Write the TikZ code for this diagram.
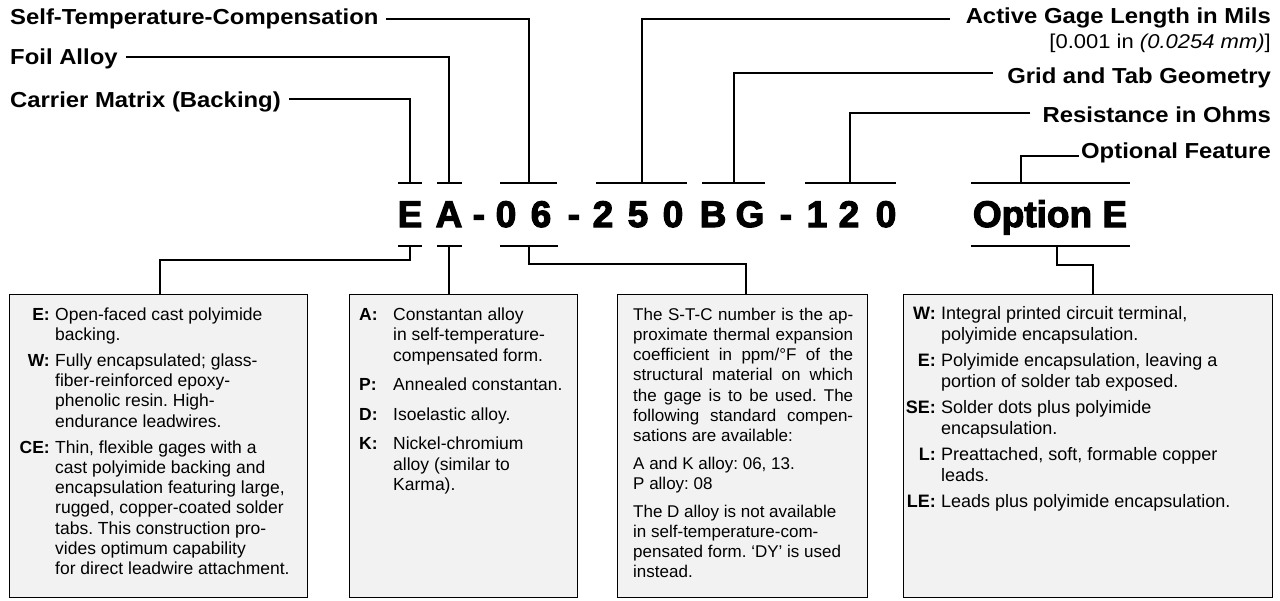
\documentclass[tikz,border=0pt]{standalone}
\usepackage{fontspec}
\setmainfont{Liberation Sans}
\newfontfamily\lblfam[FakeStretch=1.1]{Liberation Sans}
\newfontfamily\codefam[BoldFeatures={FakeBold=3}]{Liberation Sans}
\newcommand\bxA{\fontsize{17.5}{20.2}\selectfont}
\newcommand\bxB{\fontsize{17.5}{20.5}\selectfont}
\newcommand\bxC{\fontsize{17}{20.3}\selectfont}
\newcommand\bxD{\fontsize{18}{21.7}\selectfont}
\frenchspacing
\begin{document}
\begin{tikzpicture}[x=1pt,y=-1pt,
  lbl/.style={font=\lblfam\bfseries\fontsize{21.7}{24}\selectfont, inner sep=0pt},
  note/.style={font=\lblfam\fontsize{20}{24}\selectfont, inner sep=0pt},
  codech/.style={font=\codefam\bfseries\fontsize{37}{40}\selectfont, inner sep=0pt, anchor=base},
  conn/.style={line width=1.4pt},
  bar/.style={line width=1.4pt},
  infobox/.style={draw, line width=1.4pt, fill=black!5, anchor=north west, inner sep=0pt},
  para/.style={inner sep=0pt, anchor=base west},
  keyA/.style={inner sep=0pt, font=\bfseries\bxA},
  keyB/.style={inner sep=0pt, font=\bfseries\bxB},
  keyD/.style={inner sep=0pt, font=\bfseries\bxD},
]
\fill[white] (0,0) rectangle (1280,600);
\useasboundingbox (0,0) rectangle (1280,600);

% ---------- top labels ----------
\node[lbl, anchor=base west] (lSTC) at (10,24) {Self-Temperature-Compensation};
\node[lbl, anchor=base west] (lFoil) at (10,64) {Foil Alloy};
\node[lbl, anchor=base west] (lCarr) at (10,107) {Carrier Matrix (Backing)};
\node[lbl, anchor=base east] (lAct) at (1271,23) {Active Gage Length in Mils};
\node[note, anchor=base east] (lActB) at (1271,48) {[0.001 in \textit{(0.0254 mm)}]};
\node[lbl, anchor=base east] (lGrid) at (1271,83) {Grid and Tab Geometry};
\node[lbl, anchor=base east] (lRes) at (1271,122) {Resistance in Ohms};
\node[lbl, anchor=base east] (lOpt) at (1271,158) {Optional Feature};

% ---------- code ----------
\foreach \ch/\x [count=\i] in {E/410, A/449, -/479, 0/506, 6/541, -/574, 2/603, 5/638, 0/673, B/713, G/750, -/786, 1/817, 2/849, 0/886}
  \node[codech] (c\i) at (\x,227) {\ch};
\node[codech] (opt) at (1050,227) {Option E};

% ---------- top bars and junctions ----------
\coordinate (tE) at (410,183);
\coordinate (tA) at (449,183);
\coordinate (t06) at (529,183);
\coordinate (t250) at (642,183);
\coordinate (tBG) at (734,183);
\coordinate (t120) at (850,183);
\coordinate (tOpt) at (1021,183);
\draw[bar] (398,183) -- (422,183);
\draw[bar] (437,183) -- (462,183);
\draw[bar] (500,183) -- (557,183);
\draw[bar] (596,183) -- (687,183);
\draw[bar] (702,183) -- (765,183);
\draw[bar] (805,183) -- (896,183);
\draw[bar] (971,183) -- (1130,183);

\draw[conn] ([shift={(7,-5)}]lSTC.base east) -| (t06);
\draw[conn] ([shift={(8,-7)}]lFoil.base east) -| (tA);
\draw[conn] ([shift={(8,-8)}]lCarr.base east) -| (tE);
\draw[conn] ([shift={(-16,-4)}]lAct.base west) -| (t250);
\draw[conn] ([shift={(-14,-10)}]lGrid.base west) -| (tBG);
\draw[conn] ([shift={(-12,-9)}]lRes.base west) -| (t120);
\draw[conn] ([shift={(-2,-2)}]lOpt.base west) -| (tOpt);

% ---------- boxes ----------
\node[infobox, minimum width=298pt, minimum height=303pt] (b1) at (9,294) {};
\node[infobox, minimum width=228pt, minimum height=303pt] (b2) at (349,294) {};
\node[infobox, minimum width=250pt, minimum height=303pt] (b3) at (617,294) {};
\node[infobox, minimum width=369pt, minimum height=303pt] (b4) at (903,294) {};

% ---------- bottom bars and connectors ----------
\coordinate (bE) at (410,246);
\coordinate (bA) at (449,246);
\coordinate (b06) at (529,246);
\coordinate (bOpt) at (1057,246);
\draw[bar] (398,246) -- (422,246);
\draw[bar] (437,246) -- (462,246);
\draw[bar] (500,246) -- (558,246);
\draw[bar] (971,246) -- (1130,246);
\coordinate (k1) at (160,260);
\coordinate (k3) at (746,264);
\coordinate (k4) at (1093,265);
\draw[conn] (bE) |- (k1) -- (k1 |- b1.north);
\draw[conn] (bA) -- (bA |- b2.north);
\draw[conn] (b06) |- (k3) -- (k3 |- b3.north);
\draw[conn] (bOpt) |- (k4) -- (k4 |- b4.north);

% ---------- box 1 ----------
\node[keyA, anchor=base east] (k1E) at (50,320) {E:};
\node[para] (p1E) at (55,320) {\parbox[t]{300pt}{\bxA Open-faced cast polyimide\\backing.}};
\node[keyA, anchor=base east] (k1W) at (50,366.4) {W:};
\node[para] (p1W) at (55,366.4) {\parbox[t]{300pt}{\bxA Fully encapsulated; glass-\\fiber-reinforced epoxy-\\phenolic resin. High-\\endurance leadwires.}};
\node[keyA, anchor=base east] (k1CE) at (50,453.2) {CE:};
\node[para] (p1CE) at (55,453.2) {\parbox[t]{300pt}{\bxA Thin, flexible gages with a\\cast polyimide backing and\\encapsulation featuring large,\\rugged, copper-coated solder\\tabs. This construction pro-\\vides optimum capability\\for direct leadwire attachment.}};

% ---------- box 2 ----------
\node[keyB, anchor=base west] (k2A) at (359,320) {A:};
\node[para] (p2A) at (393,320) {\parbox[t]{300pt}{\bxB Constantan alloy\\in self-temperature-\\compensated form.}};
\node[keyB, anchor=base west] (k2P) at (359,390.5) {P:};
\node[para] (p2P) at (393,390.5) {\parbox[t]{300pt}{\bxB Annealed constantan.}};
\node[keyB, anchor=base west] (k2D) at (359,420) {D:};
\node[para] (p2D) at (393,420) {\parbox[t]{300pt}{\bxB Isoelastic alloy.}};
\node[keyB, anchor=base west] (k2K) at (359,449.5) {K:};
\node[para] (p2K) at (393,449.5) {\parbox[t]{300pt}{\bxB Nickel-chromium\\alloy (similar to\\Karma).}};

% ---------- box 3 ----------
\node[para] (p3a) at (633,320) {\parbox[t]{300pt}{\bxC
\makebox[220pt][s]{The S-T-C number is the ap-}\\
\makebox[220pt][s]{proximate thermal expansion}\\
\makebox[220pt][s]{coefficient in ppm/°F of the}\\
\makebox[220pt][s]{structural material on which}\\
\makebox[220pt][s]{the gage is to be used. The}\\
\makebox[220pt][s]{following standard compen-}\\
sations are available:}};
\node[para] (p3b) at (633,469) {\parbox[t]{300pt}{\bxC A and K alloy: 06, 13.\\P alloy: 08}};
\node[para] (p3c) at (633,517) {\parbox[t]{300pt}{\bxC The D alloy is not available\\in self-temperature-com-\\pensated form. `DY' is used\\instead.}};

% ---------- box 4 ----------
\node[keyD, anchor=base east] (k4W) at (936,319) {W:};
\node[para] (p4W) at (941,319) {\parbox[t]{400pt}{\bxD Integral printed circuit terminal,\\polyimide encapsulation.}};
\node[keyD, anchor=base east] (k4E) at (936,366) {E:};
\node[para] (p4E) at (941,366) {\parbox[t]{400pt}{\bxD Polyimide encapsulation, leaving a\\portion of solder tab exposed.}};
\node[keyD, anchor=base east] (k4SE) at (936,413) {SE:};
\node[para] (p4SE) at (941,413) {\parbox[t]{400pt}{\bxD Solder dots plus polyimide\\encapsulation.}};
\node[keyD, anchor=base east] (k4L) at (936,460) {L:};
\node[para] (p4L) at (941,460) {\parbox[t]{400pt}{\bxD Preattached, soft, formable copper\\leads.}};
\node[keyD, anchor=base east] (k4LE) at (936,507) {LE:};
\node[para] (p4LE) at (941,507) {\parbox[t]{400pt}{\bxD Leads plus polyimide encapsulation.}};
\end{tikzpicture}
\end{document}
